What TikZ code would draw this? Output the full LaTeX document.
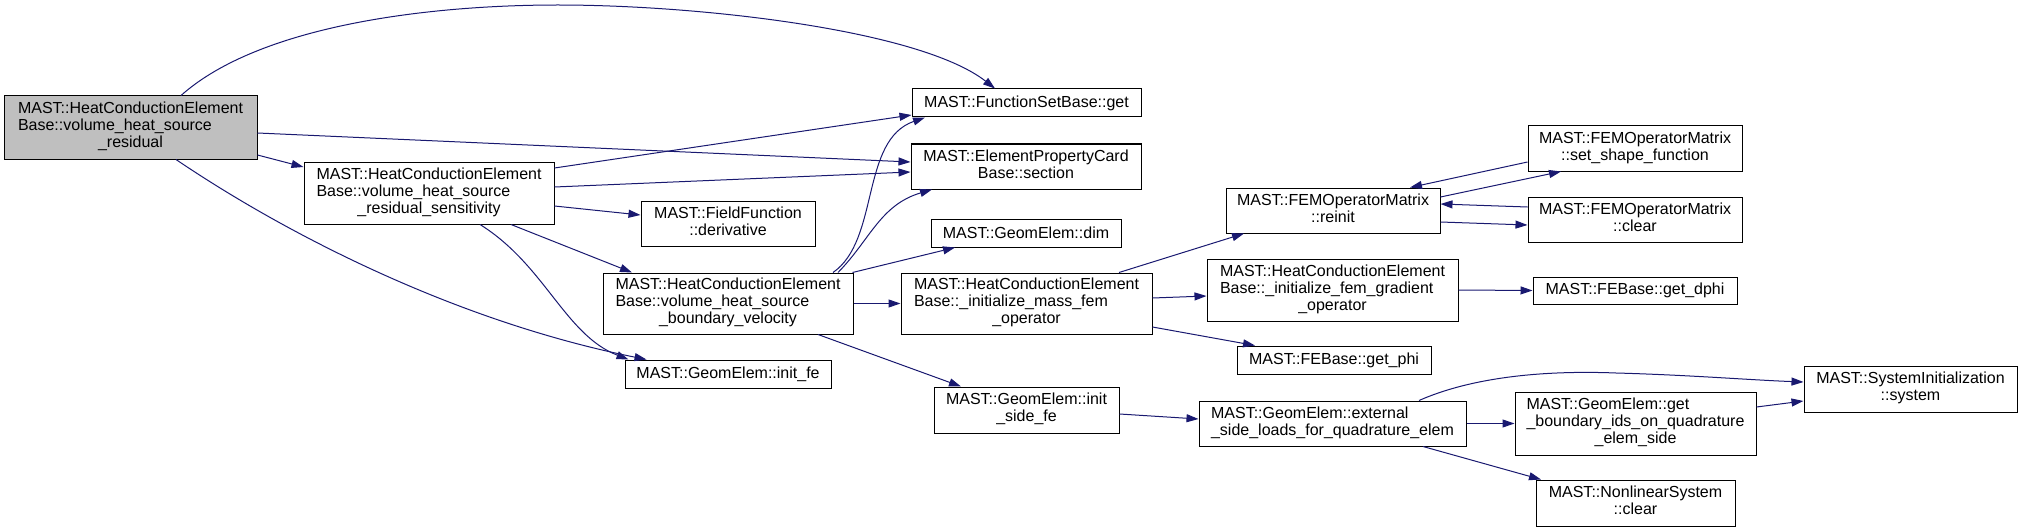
\documentclass[tikz,border=0pt]{standalone}
\usepackage{fontspec}
\setmainfont{Liberation Sans}
\usetikzlibrary{arrows.meta}
\definecolor{edgec}{HTML}{191970}
\definecolor{rootc}{HTML}{BFBFBF}
\tikzset{
 nb/.style={draw=black, line width=1pt, fill=white, inner sep=0pt, rectangle, font=\fontsize{16}{17}\selectfont},
 rootnb/.style={nb, fill=rootc},
 ed/.style={draw=edgec, line width=1pt, -{Triangle[length=12pt,width=8pt]}},
}
\newcommand{\tLLC}[3]{\begin{tabular}{@{}l@{}}#1\\#2\\\multicolumn{1}{@{}c@{}}{#3}\end{tabular}}
\newcommand{\tCC}[2]{\begin{tabular}{@{}c@{}}#1\\#2\end{tabular}}
\newcommand{\tLC}[2]{\begin{tabular}{@{}l@{}}#1\\\multicolumn{1}{@{}c@{}}{#2}\end{tabular}}
\begin{document}
\begin{tikzpicture}[x=1pt,y=-1pt]
\useasboundingbox (0,0) rectangle (2023,532);
% nodes
\node[rootnb, minimum width=253pt, minimum height=63pt] (root) at (130.5,127.5) {\tLLC{MAST::HeatConductionElement}{Base::volume\_heat\_source}{\_residual}};
\node[nb, minimum width=250pt, minimum height=62pt] (sens) at (429,193) {\tLLC{MAST::HeatConductionElement}{Base::volume\_heat\_source}{\_residual\_sensitivity}};
\node[nb, minimum width=229pt, minimum height=28pt] (get) at (1026.5,103) {MAST::FunctionSetBase::get};
\node[nb, minimum width=230pt, minimum height=45pt] (section) at (1026,166.5) {\tCC{MAST::ElementPropertyCard}{Base::section}};
\node[nb, minimum width=174pt, minimum height=45pt] (deriv) at (728,223.5) {\tCC{MAST::FieldFunction}{::derivative}};
\node[nb, minimum width=190pt, minimum height=28pt] (dim) at (1026,233) {MAST::GeomElem::dim};
\node[nb, minimum width=250pt, minimum height=61pt] (bv) at (728,303.5) {\tLLC{MAST::HeatConductionElement}{Base::volume\_heat\_source}{\_boundary\_velocity}};
\node[nb, minimum width=206pt, minimum height=28pt] (initfe) at (728,374) {MAST::GeomElem::init\_fe};
\node[nb, minimum width=251pt, minimum height=61pt] (mass) at (1026.5,303.5) {\tLLC{MAST::HeatConductionElement}{Base::\_initialize\_mass\_fem}{\_operator}};
\node[nb, minimum width=185pt, minimum height=46pt] (sidefe) at (1026.5,410) {\tCC{MAST::GeomElem::init}{\_side\_fe}};
\node[nb, minimum width=214pt, minimum height=45pt] (reinit) at (1333,210.5) {\tCC{MAST::FEMOperatorMatrix}{::reinit}};
\node[nb, minimum width=214pt, minimum height=45pt] (setshape) at (1635,148.5) {\tCC{MAST::FEMOperatorMatrix}{::set\_shape\_function}};
\node[nb, minimum width=214pt, minimum height=45pt] (fclear) at (1635,219.5) {\tCC{MAST::FEMOperatorMatrix}{::clear}};
\node[nb, minimum width=251pt, minimum height=62pt] (grad) at (1332.5,290) {\tLLC{MAST::HeatConductionElement}{Base::\_initialize\_fem\_gradient}{\_operator}};
\node[nb, minimum width=204pt, minimum height=27pt] (dphi) at (1635,290.5) {MAST::FEBase::get\_dphi};
\node[nb, minimum width=194pt, minimum height=28pt] (phi) at (1334,360) {MAST::FEBase::get\_phi};
\node[nb, minimum width=267pt, minimum height=45pt] (ext) at (1332.5,423.5) {\tLC{MAST::GeomElem::external}{\_side\_loads\_for\_quadrature\_elem}};
\node[nb, minimum width=241pt, minimum height=63pt] (bids) at (1635.5,423.5) {\tLLC{MAST::GeomElem::get}{\_boundary\_ids\_on\_quadrature}{\_elem\_side}};
\node[nb, minimum width=213pt, minimum height=46pt] (sysinit) at (1910.5,389) {\tCC{MAST::SystemInitialization}{::system}};
\node[nb, minimum width=199pt, minimum height=46pt] (nlsys) at (1635.5,503) {\tCC{MAST::NonlinearSystem}{::clear}};
% edges
\draw[ed] ([xshift=50.5pt]root.north) .. controls (260,25) and (430,5) .. (558,5) .. controls (700,5) and (920,30) .. ([xshift=-31.5pt]get.north);
\draw[ed] ([yshift=-5.5pt]root.east) -- ([yshift=4.5pt]section.west);
\draw[ed] ([yshift=-27.5pt]root.east) -- ([yshift=26pt]sens.west);
\draw[ed] ([xshift=45.5pt]root.south) .. controls (280,230) and (450,320) .. ([xshift=22pt]initfe.north west);
\draw[ed] ([yshift=25pt]sens.east) -- ([yshift=-12pt]get.west);
\draw[ed] ([yshift=6pt]sens.east) -- ([yshift=-5.5pt]section.west);
\draw[ed] ([yshift=-13pt]sens.east) -- ([yshift=8.5pt]deriv.west);
\draw[ed] ([xshift=82pt]sens.south) -- ([xshift=-96pt]bv.north);
\draw[ed] ([xshift=51pt]sens.south) .. controls (545,265) and (565,335) .. ([xshift=4pt]initfe.north west);
\draw[ed] ([xshift=105pt]bv.north) .. controls (880,240) and (860,140) .. ([xshift=-101.5pt]get.south);
\draw[ed] ([xshift=110pt]bv.north) .. controls (870,240) and (880,205) .. ([xshift=-94pt]section.south);
\draw[ed] ([xshift=-1pt]bv.north east) -- ([xshift=-71pt]dim.south);
\draw[ed] (bv.east) -- (mass.west);
\draw[ed] ([xshift=90pt]bv.south) -- ([xshift=-65.5pt]sidefe.north);
\draw[ed] ([xshift=92.5pt]mass.north) -- ([xshift=-89pt]reinit.south);
\draw[ed] ([yshift=5.5pt]mass.east) -- ([yshift=-6pt]grad.west);
\draw[ed] ([yshift=-23.5pt]mass.east) -- ([xshift=-79pt]phi.north);
\draw[ed] (grad.east) -- (dphi.west);
\draw[ed] ([yshift=13.5pt]reinit.east) -- ([xshift=-74pt]setshape.south);
\draw[ed] ([yshift=-13.5pt]setshape.west) -- ([xshift=77pt]reinit.north);
\draw[ed] ([yshift=12.5pt]fclear.west) -- ([yshift=6.5pt]reinit.east);
\draw[ed] ([yshift=-11.5pt]reinit.east) -- ([yshift=-5.5pt]fclear.west);
\draw[ed] ([yshift=-4pt]sidefe.east) -- ([yshift=4.5pt]ext.west);
\draw[ed] ([xshift=86.5pt]ext.north) .. controls (1470,378) and (1540,370) .. (1616,373) .. controls (1690,375) and (1750,380) .. ([yshift=7pt]sysinit.west);
\draw[ed] (ext.east) -- (bids.west);
\draw[ed] ([xshift=90.5pt]ext.south) -- ([xshift=-94.5pt]nlsys.north);
\draw[ed] ([yshift=16.5pt]bids.east) -- ([yshift=-12pt]sysinit.west);
\end{tikzpicture}
\end{document}
